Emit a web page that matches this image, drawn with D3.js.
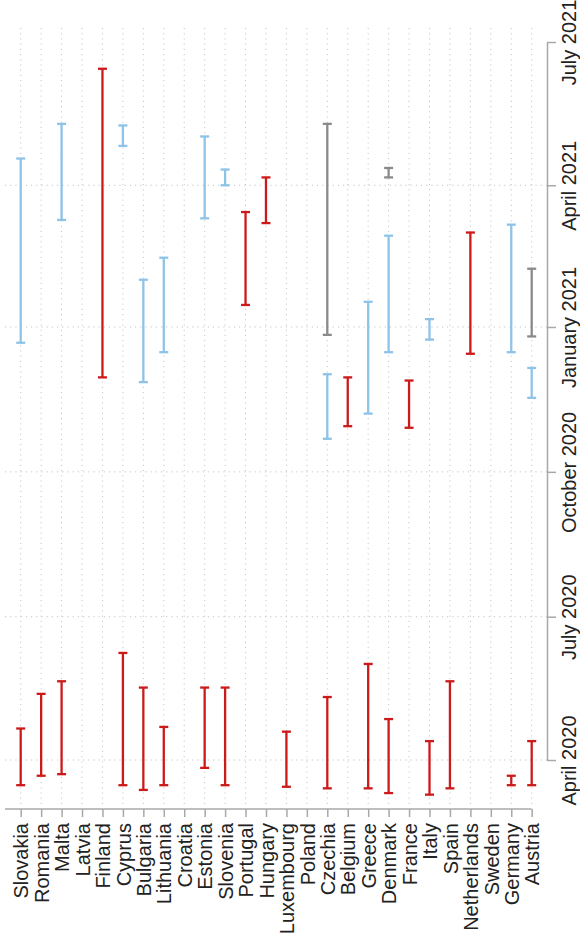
<!DOCTYPE html>
<html>
<head>
<meta charset="utf-8">
<script src="https://cdn.jsdelivr.net/npm/d3@7"></script>
<style>
  html, body { margin: 0; padding: 0; background: #fff; }
  svg { display: block; }
  text { font-family: "Liberation Sans", Arial, Helvetica, sans-serif; fill: #222; }
</style>
</head>
<body>
<svg id="chart" width="580" height="944"></svg>
<script>
// Countries along the horizontal axis, in plotting order
const countries = ["Slovakia", "Romania", "Malta", "Latvia", "Finland", "Cyprus", "Bulgaria",
  "Lithuania", "Croatia", "Estonia", "Slovenia", "Portugal", "Hungary", "Luxembourg", "Poland",
  "Czechia", "Belgium", "Greece", "Denmark", "France", "Italy", "Spain", "Netherlands", "Sweden",
  "Germany", "Austria"];

// Closure spells: [country, start, end]
const redSpells = [
  ["Slovakia", "2020-03-16", "2020-04-21"],
  ["Romania", "2020-03-22", "2020-05-13"],
  ["Malta", "2020-03-23", "2020-05-21"],
  ["Finland", "2020-11-30", "2021-06-14"],
  ["Cyprus", "2020-03-16", "2020-06-08"],
  ["Bulgaria", "2020-03-13", "2020-05-17"],
  ["Lithuania", "2020-03-16", "2020-04-22"],
  ["Estonia", "2020-03-27", "2020-05-17"],
  ["Slovenia", "2020-03-16", "2020-05-17"],
  ["Portugal", "2021-01-15", "2021-03-15"],
  ["Hungary", "2021-03-08", "2021-04-06"],
  ["Luxembourg", "2020-03-15", "2020-04-19"],
  ["Czechia", "2020-03-14", "2020-05-11"],
  ["Belgium", "2020-10-30", "2020-11-30"],
  ["Greece", "2020-03-14", "2020-06-01"],
  ["Denmark", "2020-03-11", "2020-04-27"],
  ["France", "2020-10-29", "2020-11-28"],
  ["Italy", "2020-03-10", "2020-04-13"],
  ["Spain", "2020-03-14", "2020-05-21"],
  ["Netherlands", "2020-12-15", "2021-03-02"],
  ["Germany", "2020-03-16", "2020-03-22"],
  ["Austria", "2020-03-16", "2020-04-13"]
];

const blueSpells = [
  ["Slovakia", "2020-12-22", "2021-04-18"],
  ["Malta", "2021-03-10", "2021-05-10"],
  ["Cyprus", "2021-04-26", "2021-05-09"],
  ["Bulgaria", "2020-11-27", "2021-01-31"],
  ["Lithuania", "2020-12-16", "2021-02-14"],
  ["Estonia", "2021-03-11", "2021-05-02"],
  ["Slovenia", "2021-04-01", "2021-04-11"],
  ["Czechia", "2020-10-22", "2020-12-02"],
  ["Greece", "2020-11-07", "2021-01-17"],
  ["Denmark", "2020-12-16", "2021-02-28"],
  ["Italy", "2020-12-24", "2021-01-06"],
  ["Germany", "2020-12-16", "2021-03-07"],
  ["Austria", "2020-11-17", "2020-12-06"]
];

const greySpells = [
  ["Czechia", "2020-12-27", "2021-05-10"],
  ["Denmark", "2021-04-06", "2021-04-12"],
  ["Austria", "2020-12-26", "2021-02-07"]
];

// Quarterly tick dates on the time axis
const timeTicks = ["2020-04-01", "2020-07-01", "2020-10-01", "2021-01-01", "2021-04-01", "2021-07-01"];

const parse = d3.timeParse("%Y-%m-%d");
const svg = d3.select("#chart");

const x = d3.scalePoint().domain(countries).range([20.7, 531.7]);
const y = d3.scaleTime()
  .domain([parse("2020-04-01"), parse("2021-07-01")])
  .range([760, 42]);

const plot = { left: 5, right: 547, top: 28, bottom: 809 };

// Dotted grid: one vertical line per country, horizontal lines at quarters
const grid = svg.append("g");
grid.selectAll("line.v").data(countries).join("line")
  .attr("x1", d => x(d)).attr("x2", d => x(d))
  .attr("y1", plot.top).attr("y2", plot.bottom - 3)
  .attr("stroke", "#c8c8c8").attr("stroke-width", 1)
  .attr("stroke-dasharray", "1.2,4");
grid.selectAll("line.h").data(timeTicks.slice(0, 5).map(parse)).join("line")
  .attr("x1", plot.left).attr("x2", plot.right)
  .attr("y1", d => y(d)).attr("y2", d => y(d))
  .attr("stroke", "#c4c4c4").attr("stroke-width", 1)
  .attr("stroke-dasharray", "1.2,4");

// Error-bar style range marks
function drawSpells(data, color) {
  const g = svg.append("g").attr("stroke", color).attr("stroke-width", 2.3).attr("fill", "none");
  const rows = data.map(([c, s, e]) => ({ c, s: parse(s), e: parse(e) }));
  g.selectAll("line.stem").data(rows).join("line")
    .attr("x1", d => x(d.c)).attr("x2", d => x(d.c))
    .attr("y1", d => y(d.s)).attr("y2", d => y(d.e));
  g.selectAll("line.capA").data(rows).join("line")
    .attr("x1", d => x(d.c) - 4.5).attr("x2", d => x(d.c) + 4.5)
    .attr("y1", d => y(d.s)).attr("y2", d => y(d.s));
  g.selectAll("line.capB").data(rows).join("line")
    .attr("x1", d => x(d.c) - 4.5).attr("x2", d => x(d.c) + 4.5)
    .attr("y1", d => y(d.e)).attr("y2", d => y(d.e));
}
drawSpells(redSpells, "#cc1a1a");
drawSpells(blueSpells, "#8ec3e8");
drawSpells(greySpells, "#8a8a8a");

// Bottom axis with country names
const xAxis = svg.append("g")
  .attr("transform", `translate(0,${plot.bottom})`)
  .call(d3.axisBottom(x).tickSize(8).tickSizeOuter(0).tickPadding(0));
xAxis.select(".domain").remove();
xAxis.append("line")
  .attr("x1", plot.left).attr("x2", x(countries[countries.length - 1]))
  .attr("y1", 0).attr("y2", 0)
  .attr("stroke", "#a8a8a8").attr("stroke-width", 1.5);
xAxis.selectAll(".tick line").attr("stroke", "#a8a8a8").attr("stroke-width", 1.5);
xAxis.selectAll(".tick text")
  .attr("font-size", 20)
  .attr("text-anchor", "end")
  .attr("transform", "translate(0,14) rotate(-90)")
  .attr("x", 0).attr("y", 0).attr("dy", "0.36em")
  .style("fill", "#222");

// Right-hand time axis
const fmt = d3.timeFormat("%B %Y");
const yAxis = svg.append("g")
  .attr("transform", `translate(${plot.right},0)`)
  .call(d3.axisRight(y).tickValues(timeTicks.map(parse)).tickFormat(fmt).tickSize(9).tickSizeOuter(0));
yAxis.select(".domain").attr("stroke", "#a8a8a8").attr("stroke-width", 1.5);
yAxis.selectAll(".tick line").attr("stroke", "#a8a8a8").attr("stroke-width", 1.5);
yAxis.selectAll(".tick text")
  .attr("font-size", 20)
  .attr("text-anchor", "middle")
  .attr("x", 0).attr("y", 0).attr("dy", 0)
  .attr("transform", "translate(28.5,0) rotate(-90)")
  .style("fill", "#222");
yAxis.attr("font-family", null);
xAxis.attr("font-family", null);
</script>
</body>
</html>
